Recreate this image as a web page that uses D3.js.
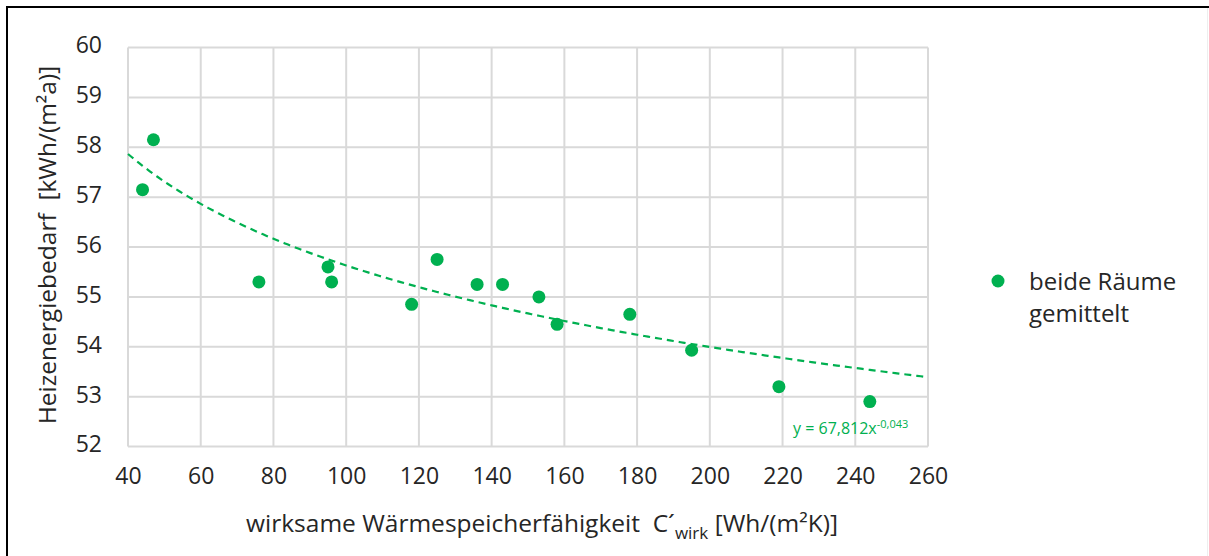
<!DOCTYPE html>
<html><head><meta charset="utf-8">
<script src="https://cdn.jsdelivr.net/npm/d3@7"></script>
<style>body{margin:0;background:#fff} text{white-space:pre}</style>
</head><body>
<svg id="c" width="1209" height="556"></svg>
<script>
const xValues = [44, 47, 76, 95, 96, 118, 125, 136, 143, 153, 158, 178, 195, 219, 244];
const yValues = [57.15, 58.15, 55.3, 55.6, 55.3, 54.85, 55.75, 55.25, 55.25, 55.0, 54.45, 54.65, 53.93, 53.2, 52.9];
const xTicks = [40, 60, 80, 100, 120, 140, 160, 180, 200, 220, 240, 260];
const yTicks = [52, 53, 54, 55, 56, 57, 58, 59, 60];
const trendCoef = 67.812, trendExp = -0.043;
const seriesName = ["beide Räume", "gemittelt"];
const green = "#00b050";
const font = "'Open Sans', sans-serif";
const txt = "#262626";

const svg = d3.select("#c");
svg.append("rect").attr("width",1209).attr("height",556).attr("fill","#fff");
// outer frame
svg.append("line").attr("x1",6).attr("x2",1209).attr("y1",7).attr("y2",7).attr("stroke","#000").attr("stroke-width",2);
svg.append("line").attr("x1",7).attr("x2",7).attr("y1",6).attr("y2",556).attr("stroke","#000").attr("stroke-width",2);
svg.append("line").attr("x1",1207.5).attr("x2",1207.5).attr("y1",8).attr("y2",556).attr("stroke","#eee").attr("stroke-width",1);

const x = d3.scaleLinear().domain([40,260]).range([128,928]);
const y = d3.scaleLinear().domain([52,60]).range([446.5,47.5]);

const g = svg.append("g");
// grid
g.selectAll(".vg").data(xTicks).join("line")
  .attr("x1",d=>x(d)).attr("x2",d=>x(d)).attr("y1",y(60)).attr("y2",y(52))
  .attr("stroke","#d9d9d9").attr("stroke-width",2);
g.selectAll(".hg").data(yTicks).join("line")
  .attr("x1",x(40)).attr("x2",x(260)).attr("y1",d=>y(d)).attr("y2",d=>y(d))
  .attr("stroke","#d9d9d9").attr("stroke-width",2);

// axes labels via d3 axes
const xAxis = d3.axisBottom(x).tickValues(xTicks).tickSize(0).tickPadding(0);
const xa = svg.append("g").attr("transform",`translate(0,${y(52)+29})`).call(xAxis);
xa.select(".domain").remove();
xa.selectAll("text").attr("font-family",font).attr("font-size",23).attr("fill",txt).attr("dy","0.35em");

const yAxis = d3.axisLeft(y).tickValues(yTicks).tickSize(0).tickPadding(0);
const ya = svg.append("g").attr("transform",`translate(102,-2)`).call(yAxis);
ya.select(".domain").remove();
ya.selectAll("text").attr("font-family",font).attr("font-size",23).attr("fill",txt);

// trendline
const trendPts = d3.range(40, 260.5, 1).map(v=>[v, trendCoef*Math.pow(v,trendExp)]);
g.append("path").datum(trendPts)
  .attr("d", d3.line().x(d=>x(d[0])).y(d=>y(d[1])))
  .attr("fill","none").attr("stroke",green).attr("stroke-width",2.2).attr("stroke-dasharray","7,5");

// points
g.selectAll(".pt").data(xValues.map((v,i)=>[v,yValues[i]])).join("circle")
  .attr("cx",d=>x(d[0])).attr("cy",d=>y(d[1])).attr("r",6.5).attr("fill",green);

// trend equation
const eq = svg.append("text").attr("x",793).attr("y",434).attr("font-family",font).attr("font-size",16).attr("fill",green);
eq.append("tspan").text("y = 67,812x");
eq.append("tspan").attr("font-size",11).attr("dy",-6).text("-0,043");

// axis titles
svg.append("text").attr("x",542).attr("y",532).attr("text-anchor","middle")
  .attr("font-family",font).attr("font-size",24.5).attr("fill",txt)
  .call(t=>{
    t.append("tspan").text("wirksame Wärmespeicherfähigkeit  C´");
    t.append("tspan").attr("font-size",17).attr("dy",7).text("wirk");
    t.append("tspan").attr("dy",-7).text(" [Wh/(m²K)]");
  });
svg.append("text").attr("transform","translate(56,245) rotate(-90)").attr("text-anchor","middle")
  .attr("font-family",font).attr("font-size",24.5).attr("fill",txt)
  .text("Heizenergiebedarf  [kWh/(m²a)]");

// legend
svg.append("circle").attr("cx",998).attr("cy",281).attr("r",6.5).attr("fill",green);
svg.selectAll(".lg").data(seriesName).join("text")
  .attr("x",1029).attr("y",(d,i)=>290+i*32).attr("font-family",font).attr("font-size",24).attr("fill",txt).text(d=>d);
</script>
</body></html>
